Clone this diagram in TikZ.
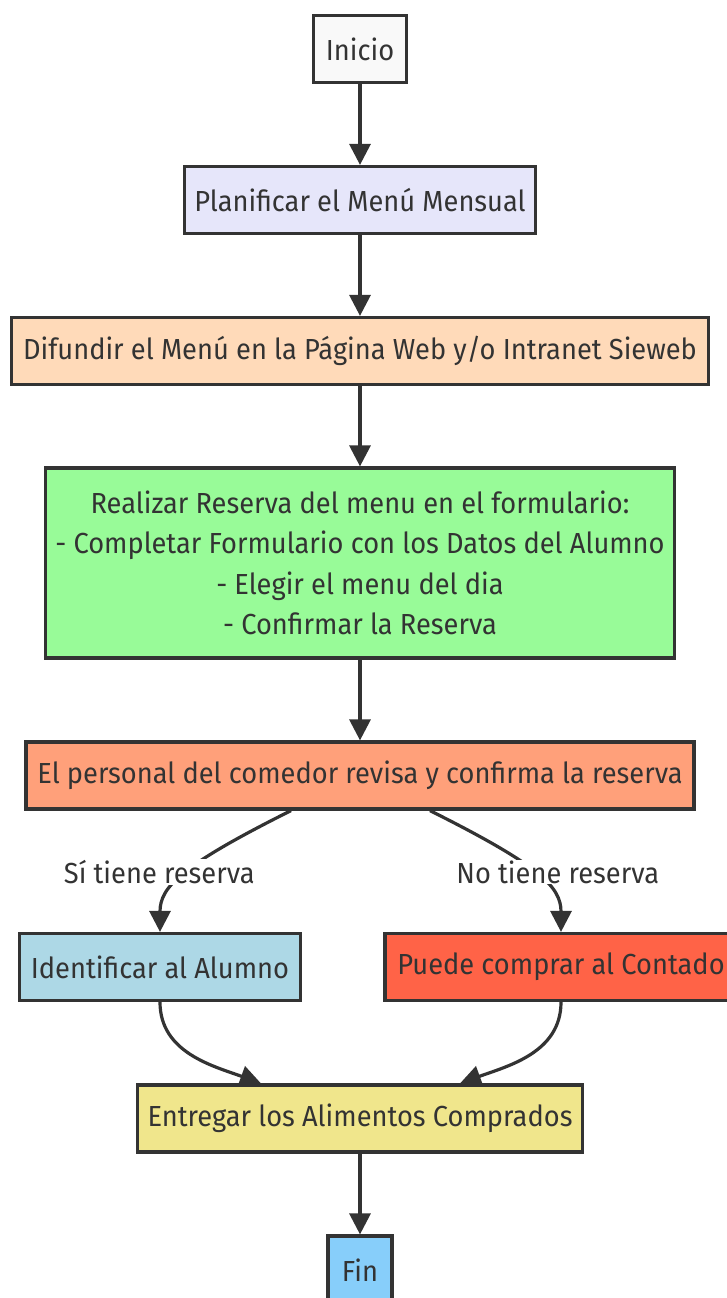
\documentclass[tikz,border=0pt]{standalone}
\usepackage{fontspec}
\setmainfont[FakeStretch=0.94]{Fira Sans}
\usepackage{xcolor}
\usetikzlibrary{positioning,arrows.meta}

\definecolor{ink}{HTML}{333333}
\definecolor{cInicio}{HTML}{F9F9F9}
\definecolor{cPlan}{HTML}{E6E6FA}
\definecolor{cDifu}{HTML}{FFDAB9}
\definecolor{cReserva}{HTML}{98FB98}
\definecolor{cRevisa}{HTML}{FFA07A}
\definecolor{cIdent}{HTML}{ADD8E6}
\definecolor{cContado}{HTML}{FF6347}
\definecolor{cEntrega}{HTML}{F0E68C}
\definecolor{cFin}{HTML}{87CEFA}

\begin{document}
\begin{tikzpicture}[node distance=151pt,on grid,
	box/.style={draw=ink,line width=3.2pt,text=ink,minimum height=67pt,inner xsep=10pt,
		font=\fontsize{29}{40.5}\selectfont},
	lbl/.style={fill=white,text=ink,inner xsep=5pt,inner ysep=1pt,font=\fontsize{29}{32}\selectfont},
	flow/.style={color=ink,line width=3.2pt,-{Triangle[length=21pt,width=21pt]}}]
	\useasboundingbox (0,0) rectangle (727pt,-1298pt);
	\clip (0,0) rectangle (727pt,-1298pt);

	\node[box,fill=cInicio,minimum width=93pt] (inicio) at (360pt,-49pt) {Inicio};
	\node[box,fill=cPlan,minimum width=351pt] (plan) [below=of inicio] {Planificar el Menú Mensual};
	\node[box,fill=cDifu,minimum width=697pt] (difu) [below=of plan] {Difundir el Menú en la Página Web y/o Intranet Sieweb};
	\node[box,fill=cReserva,minimum width=625pt,minimum height=190pt,align=center] (reserva) [below=212pt of difu]
		{Realizar Reserva del menu en el formulario:\\- Completar Formulario con los Datos del Alumno\\- Elegir el menu del dia\\- Confirmar la Reserva};
	\node[box,fill=cRevisa,minimum width=668pt] (revisa) [below=212.5pt of reserva] {El personal del comedor revisa y confirma la reserva};
	\node[box,fill=cIdent,minimum width=281pt] (ident) [below left=191.5pt and 200pt of revisa] {Identificar al Alumno};
	\node[box,fill=cContado,minimum width=352pt] (contado) [below right=191.5pt and 201pt of revisa] {Puede comprar al Contado};
	\node[box,fill=cEntrega,minimum width=442pt] (entrega) [below=343pt of revisa] {Entregar los Alimentos Comprados};
	\node[box,fill=cFin,minimum width=64pt,minimum height=68pt] (fin) [below=151.5pt of entrega] {Fin};

	\path[flow]
	(inicio) edge (plan)
	(plan) edge (difu)
	(difu) edge (reserva)
	(reserva) edge (revisa)
	([xshift=-69pt]revisa.south) edge[to path={.. controls +(-110pt,-55pt) and +(0pt,45pt) .. (\tikztotarget) \tikztonodes}]
		node[lbl,xshift=-25pt,yshift=3pt] {Sí tiene reserva} (ident.north)
	([xshift=70pt]revisa.south) edge[to path={.. controls +(110pt,-55pt) and +(0pt,45pt) .. (\tikztotarget) \tikztonodes}]
		node[lbl,xshift=21pt,yshift=3pt] {No tiene reserva} (contado.north)
	(ident.south) edge[out=-90,in=160] ([xshift=-99pt]entrega.north)
	(contado.south) edge[out=-90,in=20] ([xshift=100pt]entrega.north)
	(entrega) edge (fin)
	;
\end{tikzpicture}
\end{document}
